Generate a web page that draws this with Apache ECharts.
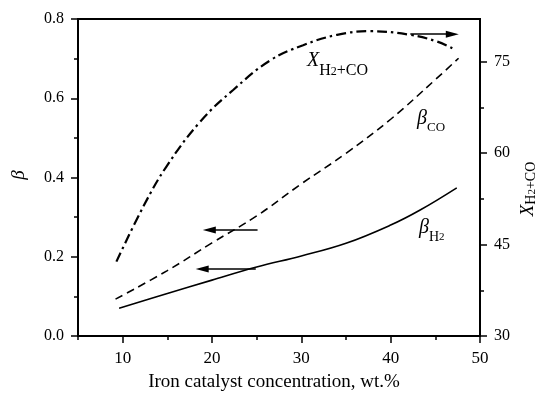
<!DOCTYPE html>
<html>
<head>
<meta charset="utf-8">
<script src="https://cdn.jsdelivr.net/npm/echarts@6/dist/echarts.min.js"></script>
<style>
  html, body { margin: 0; padding: 0; background: #fff; }
  #chart { width: 540px; height: 394px; }
</style>
</head>
<body>
<div id="chart"></div>
<script>
// Axis ranges and tick labels
const xMin = 5, xMax = 50;
const xMajorTicks = [10, 20, 30, 40, 50];
const xMinorTicks = [5, 15, 25, 35, 45];
const betaMin = 0, betaMax = 0.8, betaStep = 0.2;
const convMin = 30, convMax = 82;
const convMajorTicks = [30, 45, 60, 75];
const convMinorTicks = [37.5, 52.5, 67.5];

// beta_H2 versus iron catalyst concentration (left axis)
const h2Conc = [9.6, 15, 20, 25, 30, 35, 40, 43.3, 47.4];
const h2Beta = [0.070, 0.107, 0.141, 0.174, 0.202, 0.234, 0.280, 0.318, 0.374];

// beta_CO versus iron catalyst concentration (left axis)
const coConc = [9.2, 15, 20, 25, 30, 35, 40, 45, 47.6];
const coBeta = [0.093, 0.165, 0.235, 0.303, 0.384, 0.461, 0.547, 0.647, 0.701];

// X_H2+CO conversion versus iron catalyst concentration (right axis)
const convConc = [9.3, 12.3, 14.9, 18.7, 22.4, 26.5, 30.2, 34, 37.7, 42.2, 45.2, 46.9];
const convX = [42.2, 51.2, 57.8, 65.2, 70.4, 75.2, 77.7, 79.4, 80.0, 79.4, 78.3, 77.2];

// Arrows telling which axis each curve belongs to: [fromX, toX, y]
const arrowH2 = [24.9, 18.9, 0.169];
const arrowCO = [25.1, 19.7, 0.2675];
const arrowConv = [42.2, 46.9, 79.5];

const FONT = '"Liberation Serif", "Times New Roman", serif';
const BLACK = '#000';

const pairs = (xs, ys) => xs.map((x, i) => [x, ys[i]]);
const arrowHead = 'path://M5,0L10,20L0,20Z';

function arrowLine(a) {
  return {
    silent: true,
    animation: false,
    symbol: ['none', 'none'],
    label: { show: false },
    emphasis: { disabled: true },
    lineStyle: { color: BLACK, type: 'solid', width: 1.5 },
    data: [[
      { coord: [a[0], a[2]], symbol: 'none' },
      { coord: [a[1], a[2]], symbol: arrowHead, symbolSize: [7, 13] }
    ]]
  };
}

const yTickLabel = { color: BLACK, fontFamily: FONT, fontSize: 16 };
const xTickLabel = { color: BLACK, fontFamily: FONT, fontSize: 17 };

const chart = echarts.init(document.getElementById('chart'), null, { renderer: 'canvas' });

chart.setOption({
  animation: false,
  backgroundColor: '#fff',
  grid: {
    left: 78, right: 60, top: 19, bottom: 58,
    show: true, borderColor: BLACK, borderWidth: 2, backgroundColor: 'transparent'
  },
  xAxis: [
    {
      type: 'value', min: xMin, max: xMax, position: 'bottom',
      axisLine: { lineStyle: { color: BLACK, width: 2 } },
      axisTick: { customValues: xMajorTicks, length: 7, lineStyle: { color: BLACK, width: 1.5 } },
      axisLabel: Object.assign({ customValues: xMajorTicks, margin: 14 }, xTickLabel),
      splitLine: { show: false }
    },
    {
      type: 'value', min: xMin, max: xMax, position: 'bottom',
      axisLine: { show: false },
      axisTick: { customValues: xMinorTicks, length: 4, lineStyle: { color: BLACK, width: 1.5 } },
      axisLabel: { show: false },
      splitLine: { show: false }
    }
  ],
  yAxis: [
    {
      type: 'value', min: betaMin, max: betaMax, interval: betaStep, position: 'left',
      axisLine: { show: true, lineStyle: { color: BLACK, width: 2 } },
      axisTick: { show: true, length: 7, lineStyle: { color: BLACK, width: 1.5 } },
      minorTick: { show: true, splitNumber: 2, length: 4, lineStyle: { color: BLACK, width: 1.5 } },
      axisLabel: Object.assign({ margin: 14, formatter: v => v.toFixed(1) }, yTickLabel),
      splitLine: { show: false }
    },
    {
      type: 'value', min: convMin, max: convMax, position: 'right',
      axisLine: { show: true, lineStyle: { color: BLACK, width: 2 } },
      axisTick: { show: true, customValues: convMajorTicks, length: 7, lineStyle: { color: BLACK, width: 1.5 } },
      axisLabel: Object.assign({ customValues: convMajorTicks, margin: 14 }, yTickLabel),
      splitLine: { show: false }
    },
    {
      type: 'value', min: convMin, max: convMax, position: 'right',
      axisLine: { show: false },
      axisTick: { show: true, customValues: convMinorTicks, length: 4, lineStyle: { color: BLACK, width: 1.5 } },
      axisLabel: { show: false },
      splitLine: { show: false }
    }
  ],
  series: [
    {
      name: 'beta_H2', type: 'line', xAxisIndex: 0, yAxisIndex: 0,
      data: pairs(h2Conc, h2Beta), smooth: 0.4, showSymbol: false, symbol: 'none',
      lineStyle: { color: BLACK, width: 1.6, type: 'solid' },
      markLine: arrowLine(arrowH2)
    },
    {
      name: 'beta_CO', type: 'line', xAxisIndex: 0, yAxisIndex: 0,
      data: pairs(coConc, coBeta), smooth: 0.4, showSymbol: false, symbol: 'none',
      lineStyle: { color: BLACK, width: 1.6, type: [8, 5] },
      markLine: arrowLine(arrowCO)
    },
    {
      name: 'X_H2+CO', type: 'line', xAxisIndex: 0, yAxisIndex: 1,
      data: pairs(convConc, convX), smooth: 0.4, showSymbol: false, symbol: 'none',
      lineStyle: { color: BLACK, width: 2.2, type: [10, 4, 2.5, 4] },
      markLine: arrowLine(arrowConv)
    }
  ],
  graphic: [
    // x axis title
    {
      type: 'text', x: 274, y: 382,
      style: { text: 'Iron catalyst concentration, wt.%', fill: BLACK, font: '19px ' + FONT, align: 'center', verticalAlign: 'middle' }
    },
    // left axis title
    {
      type: 'text', x: 19, y: 175, rotation: Math.PI / 2,
      style: { text: 'β', fill: BLACK, font: 'italic 19px ' + FONT, align: 'center', verticalAlign: 'middle' }
    },
    // right axis title
    {
      type: 'text', x: 528, y: 189, rotation: Math.PI / 2,
      style: {
        text: '{m|X}{s|H}{t|2}{s|+CO}', fill: BLACK, align: 'center', verticalAlign: 'middle',
        rich: {
          m: { fontFamily: FONT, fontStyle: 'italic', fontSize: 19, lineHeight: 20, verticalAlign: 'top' },
          s: { fontFamily: FONT, fontSize: 14, lineHeight: 14, verticalAlign: 'top', padding: [6, 0, 0, 0] },
          t: { fontFamily: FONT, fontSize: 11, lineHeight: 11, verticalAlign: 'top', padding: [9, 0, 0, 0] }
        }
      }
    },
    // curve labels
    {
      type: 'text', x: 307, y: 51,
      style: {
        text: '{m|X}{s|H}{t|2}{s|+CO}', fill: BLACK, align: 'left', verticalAlign: 'top',
        rich: {
          m: { fontFamily: FONT, fontStyle: 'italic', fontSize: 20, lineHeight: 20, verticalAlign: 'top' },
          s: { fontFamily: FONT, fontSize: 16, lineHeight: 16, verticalAlign: 'top', padding: [12, 0, 0, 0] },
          t: { fontFamily: FONT, fontSize: 12, lineHeight: 12, verticalAlign: 'top', padding: [15, 0, 0, 0] }
        }
      }
    },
    {
      type: 'text', x: 417, y: 109,
      style: {
        text: '{m|β}{s|CO}', fill: BLACK, align: 'left', verticalAlign: 'top',
        rich: {
          m: { fontFamily: FONT, fontStyle: 'italic', fontSize: 20, lineHeight: 20, verticalAlign: 'top' },
          s: { fontFamily: FONT, fontSize: 13, lineHeight: 13, verticalAlign: 'top', padding: [12, 0, 0, 0] }
        }
      }
    },
    {
      type: 'text', x: 419, y: 218,
      style: {
        text: '{m|β}{s|H}{t|2}', fill: BLACK, align: 'left', verticalAlign: 'top',
        rich: {
          m: { fontFamily: FONT, fontStyle: 'italic', fontSize: 20, lineHeight: 20, verticalAlign: 'top' },
          s: { fontFamily: FONT, fontSize: 14, lineHeight: 14, verticalAlign: 'top', padding: [12, 0, 0, 0] },
          t: { fontFamily: FONT, fontSize: 11, lineHeight: 11, verticalAlign: 'top', padding: [14, 0, 0, 0] }
        }
      }
    }
  ]
});
</script>
</body>
</html>
